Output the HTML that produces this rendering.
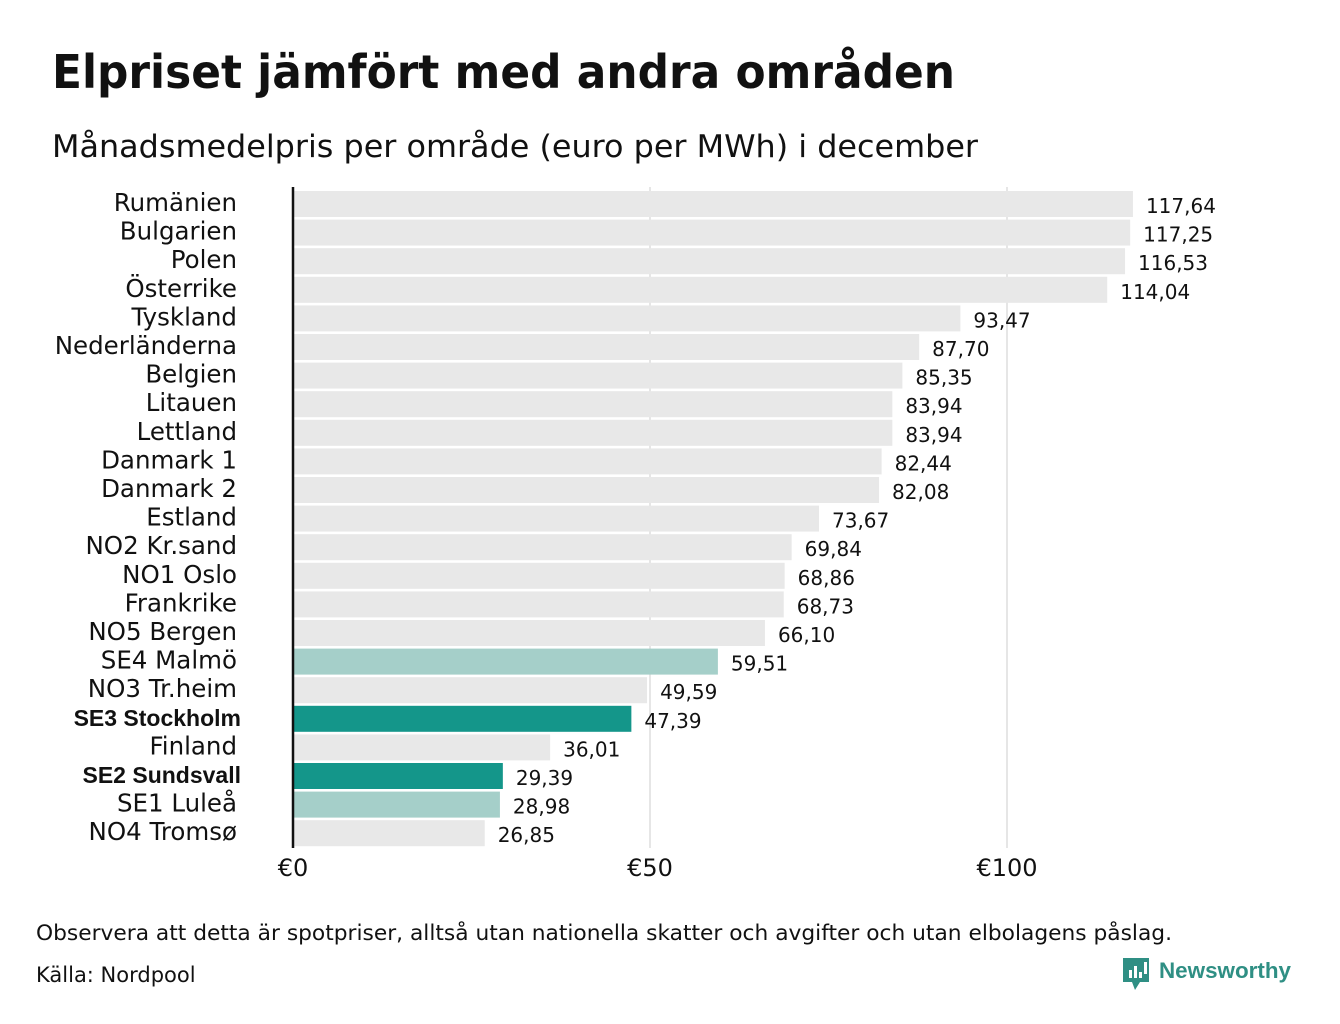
<!DOCTYPE html>
<html><head><meta charset="utf-8"><style>
body{margin:0;width:1340px;height:1020px;background:#fff;font-family:"DejaVu Sans","Liberation Sans",sans-serif;color:#111;overflow:hidden}
</style></head><body>
<svg width="1340" height="1020" xmlns="http://www.w3.org/2000/svg" font-family="DejaVu Sans, Liberation Sans, sans-serif">
<text x="52" y="88" font-size="46" font-weight="bold" fill="#111" textLength="903" lengthAdjust="spacingAndGlyphs">Elpriset jämfört med andra områden</text>
<text x="52" y="157" font-size="31" fill="#111" textLength="926" lengthAdjust="spacingAndGlyphs">Månadsmedelpris per område (euro per MWh) i december</text>
<g id="grid"></g><g id="bars"></g>
<text x="36" y="940" font-size="21" fill="#111" textLength="1136" lengthAdjust="spacingAndGlyphs">Observera att detta är spotpriser, alltså utan nationella skatter och avgifter och utan elbolagens påslag.</text>
<text x="36" y="982" font-size="21" fill="#111">Källa: Nordpool</text>
<g>
<path d="M1123 958 h26 v24 h-9 l-5 8 l-3 -8 h-9 z" fill="#2f8f84"/>
<rect x="1129" y="970" width="3" height="8" fill="#fff"/><rect x="1134" y="966" width="3" height="12" fill="#fff"/><rect x="1139" y="972" width="3" height="6" fill="#fff"/><rect x="1144" y="962" width="3" height="12" fill="#fff"/>
<text x="1159" y="978" font-size="22" font-weight="bold" fill="#2f8f84" font-family="Liberation Sans, sans-serif" textLength="132" lengthAdjust="spacingAndGlyphs">Newsworthy</text>
</g>
</svg>
<script>
const categories=["Rumänien","Bulgarien","Polen","Österrike","Tyskland","Nederländerna","Belgien","Litauen","Lettland","Danmark 1","Danmark 2","Estland","NO2 Kr.sand","NO1 Oslo","Frankrike","NO5 Bergen","SE4 Malmö","NO3 Tr.heim","SE3 Stockholm","Finland","SE2 Sundsvall","SE1 Luleå","NO4 Tromsø"];
const values=[117.64,117.25,116.53,114.04,93.47,87.70,85.35,83.94,83.94,82.44,82.08,73.67,69.84,68.86,68.73,66.10,59.51,49.59,47.39,36.01,29.39,28.98,26.85];
const highlight=["none","none","none","none","none","none","none","none","none","none","none","none","none","none","none","none","light","none","dark","none","dark","light","none"];
const ticks=[0,50,100];
const NS="http://www.w3.org/2000/svg";
const x=v=>293+v*7.14;
const y=i=>191+i*28.6;
const bh=26;
const colors={none:"#e8e8e8",light:"#a5cfc9",dark:"#14968a"};
const grid=document.getElementById("grid"),bars=document.getElementById("bars");
function mk(tag,attrs,parent){const e=document.createElementNS(NS,tag);for(const k in attrs)e.setAttribute(k,attrs[k]);parent.appendChild(e);return e;}
ticks.forEach(t=>{
 if(t>0){const l=mk("line",{x1:x(t),x2:x(t),y1:187,y2:848,stroke:"#ccc","stroke-width":1},grid);
 
 }
 const tx=mk("text",{x:x(t),y:876,"font-size":24,"text-anchor":"middle",fill:"#111"},grid);
 tx.textContent="€"+t;
 
 
});
categories.forEach((c,i)=>{
 const r=mk("rect",{x:x(0),y:y(i),width:x(values[i])-x(0),height:bh,fill:colors[highlight[i]]},bars);
 
 
 const bold=highlight[i]==="dark";
 const lb=mk("text",{x:bold?241:237,y:y(i)+20,"font-size":bold?23:24.5,"font-weight":bold?"bold":"normal","text-anchor":"end",fill:"#111","font-family":bold?"Liberation Sans, sans-serif":"DejaVu Sans, sans-serif"},bars);
 lb.textContent=c;
 
 
 const vl=mk("text",{x:x(values[i])+13,y:y(i)+22,"font-size":20,fill:"#111"},bars);
 vl.textContent=values[i].toFixed(2).replace(".",",");
 
 
});
const ax=mk("line",{x1:x(0),x2:x(0),y1:187,y2:848,stroke:"#111","stroke-width":2.5},bars);


</script>
</body></html>
